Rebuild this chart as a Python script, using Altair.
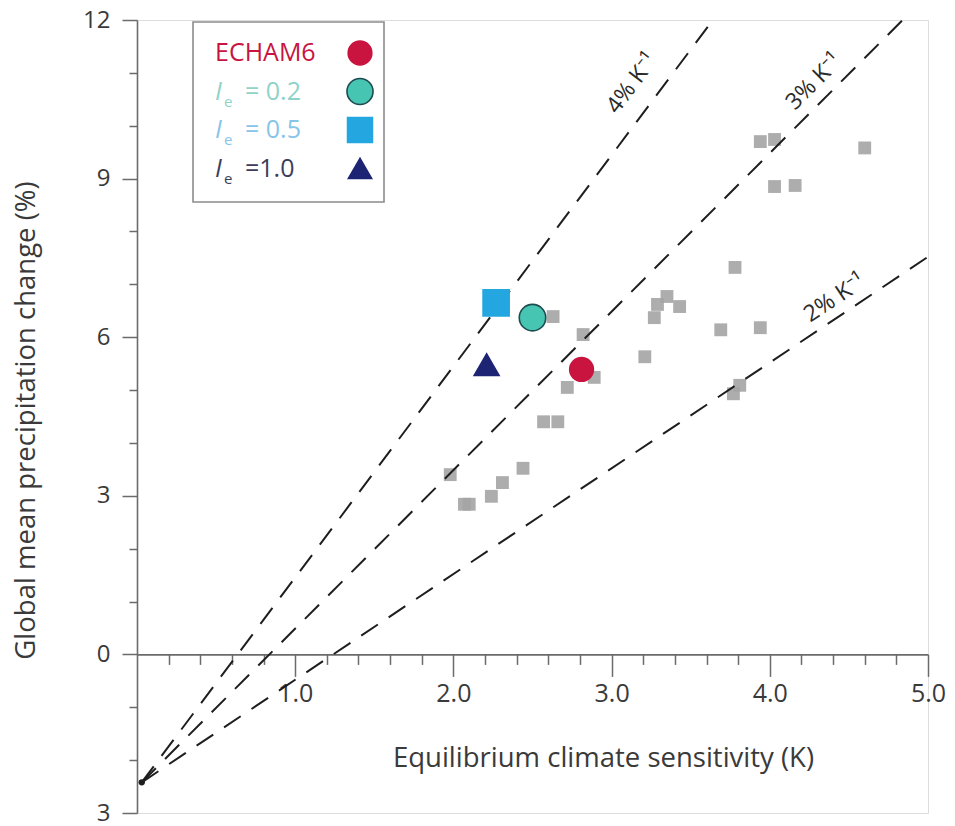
import math
import altair as alt
import pandas as pd

# ---------------- data ----------------
# grey markers: other climate models
model_ecs = [1.98, 2.07, 2.10, 2.24, 2.31, 2.44, 2.57, 2.66, 2.72, 2.63, 2.82, 2.89,
             3.21, 3.27, 3.29, 3.35, 3.43, 3.69, 3.78, 3.94, 3.77, 3.81,
             3.94, 4.03, 4.03, 4.16, 4.60]
model_dp = [3.40, 2.84, 2.84, 2.99, 3.25, 3.52, 4.40, 4.40, 5.05, 6.39, 6.05, 5.24,
            5.63, 6.37, 6.62, 6.77, 6.58, 6.14, 7.32, 6.18, 4.93, 5.09,
            9.70, 9.74, 8.85, 8.87, 9.58]

# coloured experiments
exp_names = ["ECHAM6", "Ie=0.2", "Ie=0.5", "Ie=1.0"]
exp_ecs = [2.81, 2.50, 2.27, 2.21]
exp_dp = [5.39, 6.37, 6.65, 5.48]

# legend texts
legend_main = ["ECHAM6", "I", "I", "I"]
legend_sub = ["", "e", "e", "e"]
legend_value = ["", "= 0.2", "= 0.5", "=1.0"]

# dashed reference lines (hydrological sensitivity)
line_labels = ["4% K\u207b\u00b9", "3% K\u207b\u00b9", "2% K\u207b\u00b9"]
line_slope = [4, 3, 2]
line_x0 = [0.03, 0.03, 0.03]
line_y0 = [-2.42, -2.42, -2.42]
line_x1 = [3.64, 4.84, 5.00]
line_y1 = [12.0, 12.0, 7.52]
label_x = [3.13, 4.28, 4.41]
label_y = [10.80, 10.83, 6.74]

x_major = [1.0, 2.0, 3.0, 4.0, 5.0]
x_minor = [0.2, 0.4, 0.6, 0.8, 1.2, 1.4, 1.6, 1.8, 2.2, 2.4, 2.6, 2.8,
           3.2, 3.4, 3.6, 3.8, 4.2, 4.4, 4.6, 4.8]
y_ticks = list(range(-3, 13))

# ---------------- styles ----------------
W, H = 791, 793
FONT = "Open Sans"
AX = "#6b6b6b"
TXT = "#3a3a3a"
exp_style = {
    "ECHAM6": dict(shape="circle", fill="#C8143F", stroke="#C8143F", size=560, lsize=560, tcol="#C8143F"),
    "Ie=0.2": dict(shape="circle", fill="#46C6B2", stroke="#1E4B50", size=700, lsize=680, tcol="#8FD3C8"),
    "Ie=0.5": dict(shape="square", fill="#24A6E0", stroke="#24A6E0", size=680, lsize=620, tcol="#86C5E8"),
    "Ie=1.0": dict(shape="triangle-up", fill="#1D2473", stroke="#1D2473", size=620, lsize=540, tcol="#3B3D5A"),
}

models = pd.DataFrame({"ecs": model_ecs, "dp": model_dp})
exps = pd.DataFrame({"name": exp_names, "ecs": exp_ecs, "dp": exp_dp})
for k in ["shape", "fill", "stroke", "size", "lsize", "tcol"]:
    exps[k] = [exp_style[n][k] for n in exp_names]
exps["row"] = range(len(exp_names))
exps["ly"] = 33 + exps["row"] * 38.5
exps["main"] = legend_main
exps["sub"] = legend_sub
exps["val"] = legend_value

lines = pd.DataFrame({"label": line_labels, "x0": line_x0, "y0": line_y0,
                      "x1": line_x1, "y1": line_y1, "lx": label_x, "ly": label_y,
                      "slope": line_slope})
kx, ky = W / 5.0, H / 15.0
lines["ang"] = [360 - math.degrees(math.atan(s * ky / kx)) for s in line_slope]

xs = alt.Scale(domain=[0, 5], nice=False, zero=False)
ys = alt.Scale(domain=[-3, 12], nice=False, zero=False)
X_OFF = -(3.0 / 15.0) * H

x_axis = alt.Axis(
    orient="bottom", values=x_major, offset=X_OFF, grid=False, labelOverlap=False,
    format=".1f", tickSize=22,
    labelPadding=5, labelFontSize=25, labelColor=TXT, labelFont=FONT,
    domainColor=AX, tickColor=AX, domainWidth=1.6, tickWidth=1.5,
    title="Equilibrium climate sensitivity (K)", titleFontSize=27.5, titleFont=FONT,
    titleColor=TXT, titleFontWeight="normal", titleX=466, titleY=112,
    titleAlign="center", titleBaseline="alphabetic", labelFlush=False,
)
x_axis_minor = alt.Axis(
    orient="bottom", values=x_minor, offset=X_OFF, grid=False, labels=False,
    domain=False, tickSize=10, tickColor=AX, tickWidth=1.5, title="",
)
y_axis = alt.Axis(
    values=y_ticks, grid=False, labelOverlap=False,
    labelExpr="datum.value % 3 == 0 ? (datum.value < 0 ? '3' : datum.label) : ''",
    tickSize={"condition": {"test": "datum.value % 3 == 0", "value": 15}, "value": 8},
    labelPadding=12, labelFontSize=24, labelColor=TXT, labelFont=FONT,
    domainColor=AX, tickColor=AX, domainWidth=1.6, tickWidth=1.5,
    title="Global mean precipitation change (%)", titleFontSize=27.5, titleFont=FONT,
    titleColor=TXT, titleFontWeight="normal", titleX=-103, titleY=400,
    titleAngle=270, titleAlign="center", titleBaseline="alphabetic", labelFlush=False,
)


def X(field):
    return alt.X(field, scale=xs, axis=None)


def Y(field):
    return alt.Y(field, scale=ys, axis=y_axis)


grey = alt.Chart(models).mark_point(filled=True, shape="square", size=165,
                                    color="#A4A4A4", opacity=0.9).encode(
    x=alt.X("ecs:Q", scale=xs, axis=x_axis),
    y=Y("dp:Q"),
)

dashed = alt.Chart(lines).mark_rule(color="#1e1e1e", strokeWidth=2.0,
                                    strokeDash=[20, 13]).encode(
    x=alt.X("x0:Q", scale=xs, axis=x_axis_minor),
    y=Y("y0:Q"),
    x2="x1:Q", y2="y1:Q")

dot = alt.Chart(lines.head(1)).mark_point(filled=True, size=40, color="#1e1e1e",
                                          opacity=1).encode(x=X("x0:Q"), y=Y("y0:Q"))

line_text = alt.Chart(lines).mark_text(font=FONT, fontSize=23, color="#2a2a2a",
                                       align="center", baseline="middle").encode(
    x=X("lx:Q"), y=Y("ly:Q"), text="label:N", angle=alt.Angle("ang:Q", scale=None))

markers = alt.Chart(exps).mark_point(filled=True, opacity=1, strokeWidth=1.6).encode(
    x=X("ecs:Q"), y=Y("dp:Q"),
    shape=alt.Shape("shape:N", scale=None),
    fill=alt.Fill("fill:N", scale=None),
    stroke=alt.Stroke("stroke:N", scale=None),
    size=alt.Size("size:Q", scale=None),
)

box = alt.Chart(exps.head(1)).mark_rect(fill="white", stroke="#8c8c8c",
                                        strokeWidth=1.6).encode(
    x=alt.value(56), x2=alt.value(247), y=alt.value(2), y2=alt.value(182))

leg_sym = alt.Chart(exps).mark_point(filled=True, opacity=1, strokeWidth=1.6).encode(
    x=alt.value(223),
    y=alt.Y("ly:Q", scale=None),
    shape=alt.Shape("shape:N", scale=None),
    fill=alt.Fill("fill:N", scale=None),
    stroke=alt.Stroke("stroke:N", scale=None),
    size=alt.Size("lsize:Q", scale=None),
)

leg_main = alt.Chart(exps).transform_filter("datum.row == 0").mark_text(
    font=FONT, fontSize=25, align="left", baseline="middle").encode(
    x=alt.value(78), y=alt.Y("ly:Q", scale=None), text="main:N",
    color=alt.Color("tcol:N", scale=None),
)
leg_i = alt.Chart(exps).transform_filter("datum.row > 0").mark_text(
    font=FONT, fontSize=25, align="left", baseline="middle", fontStyle="italic").encode(
    x=alt.value(78), y=alt.Y("ly:Q", scale=None), text="main:N",
    color=alt.Color("tcol:N", scale=None),
)
leg_sub = alt.Chart(exps).transform_calculate(sy="datum.ly + 10").mark_text(
    font=FONT, fontSize=15, align="left", baseline="middle").encode(
    x=alt.value(87), y=alt.Y("sy:Q", scale=None), text="sub:N",
    color=alt.Color("tcol:N", scale=None))
leg_val = alt.Chart(exps).mark_text(font=FONT, fontSize=25, align="left",
                                    baseline="middle").encode(
    x=alt.value(108), y=alt.Y("ly:Q", scale=None), text="val:N",
    color=alt.Color("tcol:N", scale=None))

chart = alt.layer(grey, dashed, dot, line_text, markers, box, leg_sym,
                  leg_main, leg_i, leg_sub, leg_val).resolve_axis(
    x="independent"
).properties(
    width=W, height=H,
    autosize=alt.AutoSizeParams(type="none"),
    padding={"left": 137, "top": 20, "right": 27, "bottom": 13},
    background="white",
).configure_view(stroke="transparent", strokeWidth=0).configure(font=FONT)

chart.save("out.html", embed_options={"renderer": "svg", "actions": False})
